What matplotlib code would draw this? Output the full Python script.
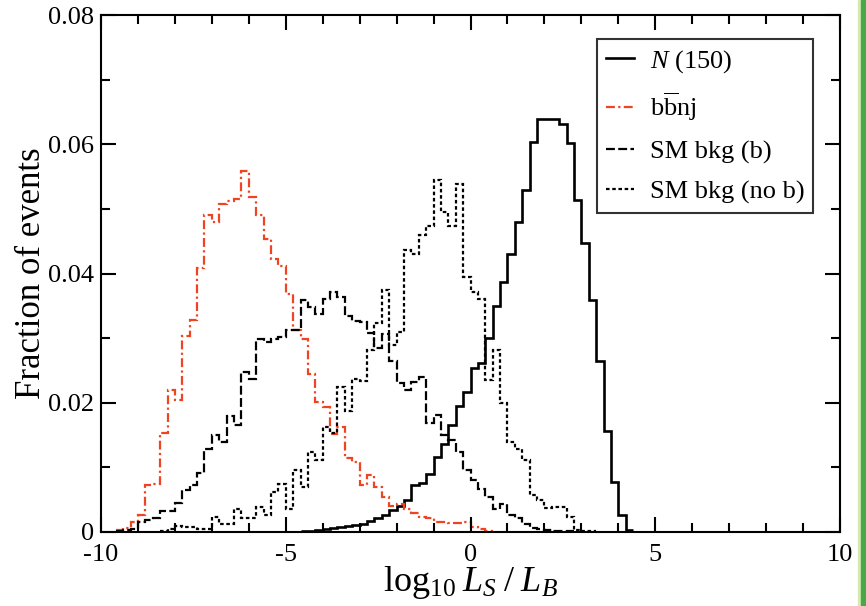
import numpy as np
import matplotlib
matplotlib.use("Agg")
import matplotlib.pyplot as plt
from matplotlib.patches import Rectangle
from matplotlib.ticker import MultipleLocator

plt.rcParams['font.family'] = ['Liberation Serif', 'DejaVu Serif']
plt.rcParams['mathtext.fontset'] = 'custom'
plt.rcParams['mathtext.rm'] = 'Liberation Serif'
plt.rcParams['mathtext.it'] = 'Liberation Serif:italic'
plt.rcParams['mathtext.bf'] = 'Liberation Serif:bold'

# ---------------- data (bin width 0.2 in log10 LS/LB) ----------------
bin_width = 0.2

n150_start = -4.6
n150_vals = [0.0002, 0.0002, 0.0003, 0.0005, 0.0006, 0.0007, 0.0009, 0.0011, 0.0013, 0.0017,
             0.0022, 0.0027, 0.0034, 0.0040, 0.0049, 0.0072, 0.0076, 0.0090, 0.0116, 0.0136,
             0.0165, 0.0195, 0.0217, 0.0254, 0.0261, 0.0300, 0.0349, 0.0387, 0.0430, 0.0479,
             0.0529, 0.0603, 0.0639, 0.0639, 0.0639, 0.0631, 0.0602, 0.0514, 0.0447, 0.0359,
             0.0264, 0.0156, 0.0078, 0.0026, 0.0003]

bbnj_start = -9.6
bbnj_vals = [0.0003, 0.0006, 0.0016, 0.0027, 0.0073, 0.0075, 0.0153, 0.0219, 0.0205, 0.0304,
             0.0328, 0.0408, 0.0490, 0.0480, 0.0508, 0.0512, 0.0515, 0.0558, 0.0519, 0.0490,
             0.0453, 0.0422, 0.0412, 0.0369, 0.0312, 0.0298, 0.0245, 0.0201, 0.0194, 0.0152,
             0.0163, 0.0114, 0.0108, 0.0072, 0.0088, 0.0070, 0.0054, 0.0041, 0.0044, 0.0036,
             0.0029, 0.0023, 0.0022, 0.0015, 0.0015, 0.0014, 0.0014, 0.0015, 0.0008, 0.0005,
             0.0002]

smb_start = -9.6
smb_vals = [0.0001, 0.0003, 0.0005, 0.0016, 0.0018, 0.0022, 0.0033, 0.0033, 0.0045, 0.0065,
            0.0072, 0.0091, 0.0129, 0.0150, 0.0140, 0.0179, 0.0165, 0.0248, 0.0236, 0.0298,
            0.0294, 0.0299, 0.0302, 0.0312, 0.0312, 0.0359, 0.0348, 0.0338, 0.0360, 0.0372,
            0.0364, 0.0335, 0.0327, 0.0325, 0.0308, 0.0285, 0.0306, 0.0265, 0.0231, 0.0219,
            0.0232, 0.0240, 0.0169, 0.0181, 0.0150, 0.0142, 0.0124, 0.0096, 0.0080, 0.0067,
            0.0054, 0.0035, 0.0044, 0.0027, 0.0021, 0.0012, 0.0006, 0.0004, 0.0003, 0.0002,
            0.0001, 0.0001]

smnob_start = -8.4
smnob_vals = [0.0002, 0.0005, 0.0010, 0.0008, 0.0007, 0.0005, 0.0004, 0.0023, 0.0012, 0.0012,
              0.0035, 0.0021, 0.0022, 0.0038, 0.0026, 0.0062, 0.0074, 0.0036, 0.0096, 0.0070,
              0.0124, 0.0111, 0.0163, 0.0153, 0.0225, 0.0188, 0.0237, 0.0233, 0.0281, 0.0323,
              0.0375, 0.0289, 0.0310, 0.0436, 0.0430, 0.0460, 0.0473, 0.0544, 0.0495, 0.0473,
              0.0539, 0.0395, 0.0372, 0.0361, 0.0235, 0.0281, 0.0199, 0.0139, 0.0129, 0.0111,
              0.0058, 0.0049, 0.0037, 0.0038, 0.0039, 0.0023, 0.0003, 0.0002, 0.0001]

labels = [r'$N$ (150)', r'b$\overline{\mathrm{b}}$nj', 'SM bkg (b)', 'SM bkg (no b)']
x_ticks = [-10, -5, 0, 5, 10]
y_ticks = [0, 0.02, 0.04, 0.06, 0.08]
y_tick_labels = ['0', '0.02', '0.04', '0.06', '0.08']


def edges_for(start, vals):
    return start + bin_width * np.arange(len(vals) + 1)


# ---------------- figure ----------------
fig = plt.figure(figsize=(8.66, 6.06), dpi=100)
ax = fig.add_axes([101 / 866, 1 - 532 / 606, 739 / 866, 517 / 606])

red = '#ee4422'
lw = 1.6
ax.stairs(n150_vals, edges_for(n150_start, n150_vals), color='black', lw=1.9,
          linestyle='-', label=labels[0], baseline=None)
ax.stairs(bbnj_vals, edges_for(bbnj_start, bbnj_vals), color=red, lw=lw,
          linestyle=(0, (4, 1.5, 1, 1.5)), label=labels[1], baseline=None)
ax.stairs(smb_vals, edges_for(smb_start, smb_vals), color='black', lw=lw,
          linestyle=(0, (4, 1.5)), label=labels[2], baseline=None)
ax.stairs(smnob_vals, edges_for(smnob_start, smnob_vals), color='black', lw=lw,
          linestyle=(0, (1.6, 1.2)), label=labels[3], baseline=None)

ax.set_xlim(-10, 10)
ax.set_ylim(0, 0.08)
ax.set_xticks(x_ticks)
ax.set_xticklabels([str(t) for t in x_ticks])
ax.set_yticks(y_ticks)
ax.set_yticklabels(y_tick_labels)
ax.xaxis.set_minor_locator(MultipleLocator(1))
ax.yaxis.set_minor_locator(MultipleLocator(0.01))

ax.tick_params(which='both', direction='in', top=True, right=True, width=1.5, colors='black')
ax.tick_params(which='major', length=11)
ax.tick_params(which='minor', length=6.5)
ax.tick_params(axis='x', which='major', labelsize=19, pad=8.5)
ax.tick_params(axis='y', which='major', labelsize=19, pad=5)
for sp in ax.spines.values():
    sp.set_linewidth(1.5)

ax.set_xlabel(r'$\mathrm{log}_{10}\;L_S\;/\;L_B$', fontsize=26, labelpad=-1)
ax.set_ylabel('Fraction of events', fontsize=25, labelpad=0)

leg = ax.legend(loc='upper right', bbox_to_anchor=(0.9635, 0.9536), borderaxespad=0,
                fontsize=19, frameon=True, fancybox=False, edgecolor='black',
                handlelength=1.05, handletextpad=0.6, labelspacing=0.62,
                borderpad=0.33)
leg.get_frame().set_linewidth(1.5)

# green page border at the right edge
fig.patches.append(Rectangle((858 / 866, 0), 3 / 866, 1, transform=fig.transFigure,
                             color='#d6eab0', zorder=10))
fig.patches.append(Rectangle((861 / 866, 0), 5 / 866, 1, transform=fig.transFigure,
                             color='#46a846', zorder=10))

fig.savefig('out.png', dpi=100)
